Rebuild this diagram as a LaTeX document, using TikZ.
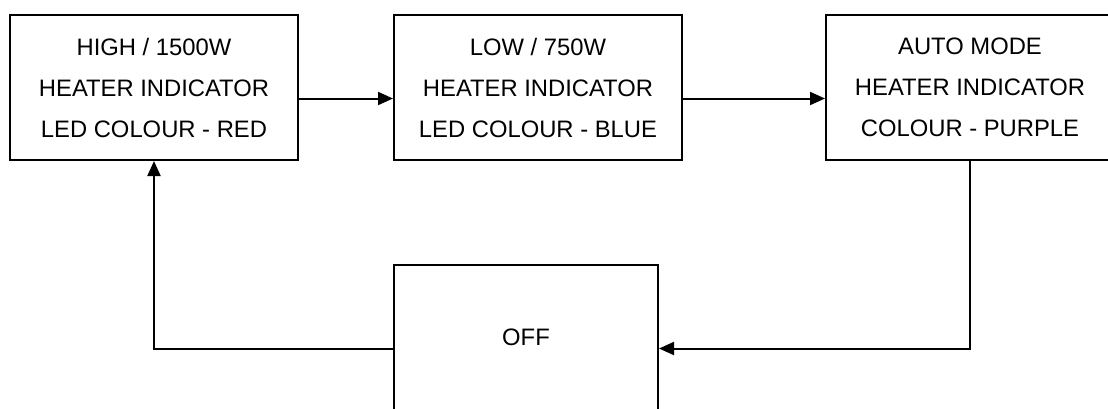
\documentclass[tikz,border=0pt]{standalone}
\usepackage{fontspec}
\setmainfont{Liberation Sans}
\usetikzlibrary{arrows.meta}

\begin{document}
\begin{tikzpicture}[x=0.5pt,y=-0.5pt,line width=1pt,
    modebox/.style={draw,minimum width=144pt,minimum height=72.5pt,inner sep=0pt,align=center,
        font=\fontsize{11.9}{20.5}\selectfont},
    flow/.style={-{Triangle[length=7.5pt,width=6.5pt]}}]

    % fix the page size
    \useasboundingbox (0,0) rectangle (1108,408);
    \clip (0,0) rectangle (1108,408);

    % draw mode boxes
    \node[modebox] (high) at (154,87.5) {HIGH / 1500W\\HEATER INDICATOR\\LED COLOUR - RED};
    \node[modebox] (low) at (538,87.5) {LOW / 750W\\HEATER INDICATOR\\LED COLOUR - BLUE};
    \node[modebox] (auto) at (970,87.5) {AUTO MODE\\HEATER INDICATOR\\COLOUR - PURPLE};
    \node[modebox,minimum width=132pt] (off) at (526,337.5) {OFF};

    % forward arrows
    \foreach \a/\b in {high/low,low/auto}
        \draw [flow] ([yshift=-5.5pt]\a.east) -- ([yshift=-5.5pt]\b.west);

    % back round through off
    \draw [flow] (auto.south) |- ([yshift=-5.5pt]off.east);
    \draw [flow] ([yshift=-5.5pt]off.west) -| (high.south);

\end{tikzpicture}
\end{document}
